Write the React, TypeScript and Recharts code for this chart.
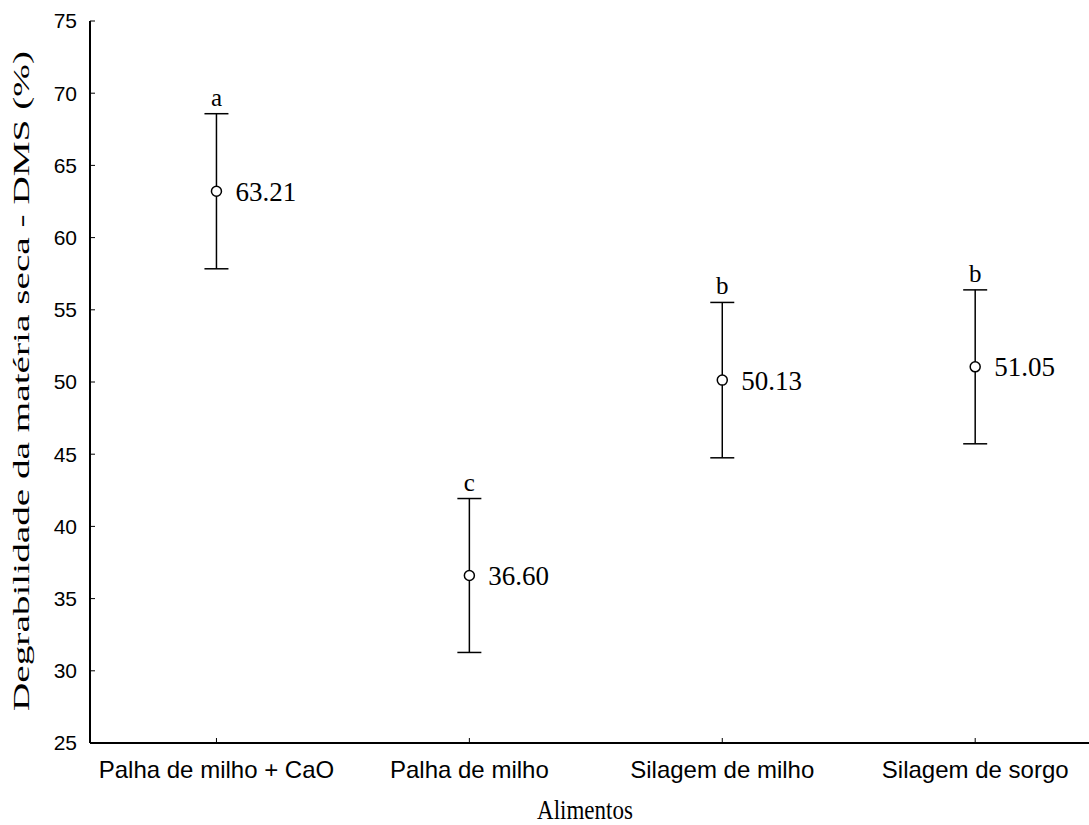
import { ScatterChart, Scatter, XAxis, YAxis, ErrorBar } from 'recharts'

// Degrabilidade da matéria seca por alimento (média ± erro)

const categorias = ['Palha de milho + CaO', 'Palha de milho', 'Silagem de milho', 'Silagem de sorgo']
const medias = [63.21, 36.6, 50.13, 51.05]
const erros = [5.37, 5.33, 5.38, 5.33]
const letras = ['a', 'c', 'b', 'b']
const yTicks = [25, 30, 35, 40, 45, 50, 55, 60, 65, 70, 75]
const xTicks = [0, 1, 2, 3]

const pontos = categorias.map((c, i) => ({ x: i, y: medias[i], err: erros[i], nome: c }))
const topos = categorias.map((c, i) => ({ x: i, y: medias[i] + erros[i], letra: letras[i] }))

const SERIF = '"Liberation Serif", "Times New Roman", serif'
const SANS = '"Liberation Sans", Arial, sans-serif'

function PontoMedia(props: any) {
  const { cx, cy, payload } = props
  return (
    <g>
      <circle cx={cx} cy={cy} r={5} fill="#fff" stroke="#000" strokeWidth={1.5} />
      <text x={cx + 19} y={cy} dy="0.35em" fontFamily={SERIF} fontSize={27} fill="#000">
        {payload.y.toFixed(2)}
      </text>
    </g>
  )
}

function Letra(props: any) {
  const { cx, cy, payload } = props
  return (
    <text x={cx} y={cy - 8} textAnchor="middle" fontFamily={SERIF} fontSize={25} fill="#000">
      {payload.letra}
    </text>
  )
}

// o rótulo original é esticado no sentido vertical
function YLabel() {
  return (
    <text
      x={29}
      y={381}
      transform="rotate(-90, 29, 381)"
      textAnchor="middle"
      fontFamily={SERIF}
      fontSize={24}
      textLength={660}
      lengthAdjust="spacingAndGlyphs"
      fill="#000"
    >
      Degrabilidade da matéria seca - DMS (%)
    </text>
  )
}

function XLabel() {
  return (
    <text
      x={585}
      y={819}
      textAnchor="middle"
      fontFamily={SERIF}
      fontSize={23}
      transform="translate(0, -163.8) scale(1, 1.2)"
      fill="#000"
    >
      Alimentos
    </text>
  )
}

export default function App() {
  return (
    <div style={{ position: 'absolute', left: 0, top: 0, background: '#fff' }}>
      <ScatterChart
        width={1089}
        height={825}
        margin={{ top: 21, right: 0, bottom: 0, left: 0 }}
      >
        <XAxis
          type="number"
          dataKey="x"
          domain={[-0.5, 3.45]}
          allowDataOverflow
          ticks={xTicks}
          tickFormatter={(v: number) => categorias[v] ?? ''}
          height={82}
          tickSize={-5}
          tickMargin={23}
          axisLine={{ stroke: '#000', strokeWidth: 2 }}
          tickLine={{ stroke: '#000', strokeWidth: 1 }}
          tick={{ fill: '#000', fontFamily: SANS, fontSize: 24 }}
          interval={0}
          label={<XLabel />}
        />
        <YAxis
          type="number"
          dataKey="y"
          domain={[25, 75]}
          ticks={yTicks}
          width={90}
          tickSize={-5}
          tickMargin={18}
          axisLine={{ stroke: '#000', strokeWidth: 2 }}
          tickLine={{ stroke: '#000', strokeWidth: 1 }}
          tick={{ fill: '#000', fontFamily: SANS, fontSize: 21 }}
          label={<YLabel />}
        />
        <Scatter data={pontos} shape={<PontoMedia />} isAnimationActive={false}>
          <ErrorBar dataKey="err" direction="y" width={12} stroke="#000" strokeWidth={1.5} />
        </Scatter>
        <Scatter data={topos} shape={<Letra />} isAnimationActive={false} />
      </ScatterChart>
    </div>
  )
}
